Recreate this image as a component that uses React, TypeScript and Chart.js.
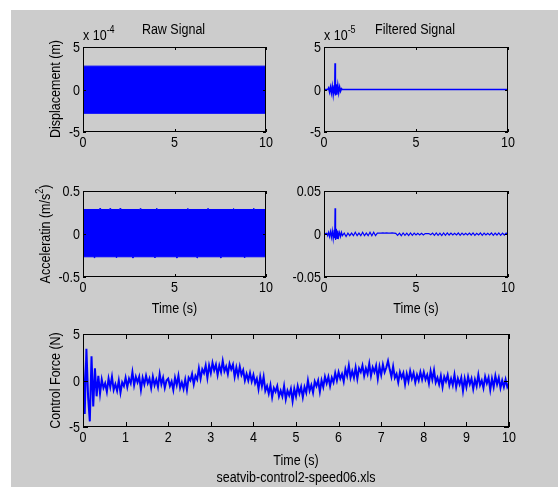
import React, { useEffect, useRef } from "react";
import { Chart, registerables } from "chart.js";

Chart.register(...registerables);

const W = 558;
const H = 487;
const FONT = '"Liberation Sans", Arial, Helvetica, sans-serif';
const FS = 12.5;
const FS_SUP = 9;
const STRETCH = 1.15;
const BLUE = "#0000ff";

// ---------------- data ----------------
// Raw displacement (x 1e-4 m): solid oscillation band, envelope
const RAW_DISP_T = [0, 10];
const RAW_DISP_UPPER = [2.75, 2.75];
const RAW_DISP_LOWER = [-2.8, -2.8];

// Filtered displacement (x 1e-5 m)
const FILT_DISP_T = [0, 0.2, 0.25, 0.3, 0.35, 0.4, 0.45, 0.5, 0.55, 0.58, 0.6, 0.62, 0.66, 0.7, 0.75, 0.8, 0.85, 0.9, 0.95, 1.0, 10];
const FILT_DISP = [0, 0, 0.2, -0.3, 0.3, -0.4, 0.4, -0.6, 0.5, -0.5, 3.1, -0.7, 0.6, -0.6, 0.5, -0.4, 0.3, -0.2, 0.1, 0, 0];

// Raw acceleration (m/s^2): envelope of the dense oscillation, with its small spikes
const RAW_ACC_UPPER_T = [0, 0.9, 0.93, 0.96, 1.45, 1.48, 1.51, 2.0, 2.03, 2.06, 3.1, 3.13, 3.16, 4.0, 4.03, 4.06, 5.7, 5.73, 5.76, 6.8, 6.83, 6.86, 8.2, 8.23, 8.26, 9.3, 9.33, 9.36, 10];
const RAW_ACC_UPPER = [0.285, 0.285, 0.3, 0.285, 0.285, 0.298, 0.285, 0.285, 0.3, 0.285, 0.285, 0.297, 0.285, 0.285, 0.3, 0.285, 0.285, 0.298, 0.285, 0.285, 0.3, 0.285, 0.285, 0.297, 0.285, 0.285, 0.3, 0.285, 0.285];
const RAW_ACC_LOWER_T = [0, 0.6, 0.63, 0.66, 1.8, 1.83, 1.86, 2.7, 2.73, 2.76, 3.9, 3.93, 3.96, 5.1, 5.13, 5.16, 6.2, 6.23, 6.26, 7.5, 7.53, 7.56, 8.8, 8.83, 8.86, 10];
const RAW_ACC_LOWER = [-0.265, -0.265, -0.28, -0.265, -0.265, -0.278, -0.265, -0.265, -0.28, -0.265, -0.265, -0.277, -0.265, -0.265, -0.28, -0.265, -0.265, -0.278, -0.265, -0.265, -0.28, -0.265, -0.265, -0.278, -0.265, -0.265];

// Filtered acceleration (m/s^2): start-up burst, then small ripple every 0.1 s from 1.0 s
const FILT_ACC_BURST_T = [0, 0.15, 0.2, 0.25, 0.3, 0.35, 0.4, 0.45, 0.5, 0.55, 0.58, 0.6, 0.63, 0.67, 0.71, 0.75, 0.8, 0.85, 0.9, 0.95];
const FILT_ACC_BURST = [0, 0.001, -0.002, 0.002, -0.003, 0.003, -0.004, 0.004, -0.006, 0.005, -0.005, 0.03, -0.007, 0.006, -0.005, 0.004, -0.003, 0.002, -0.003, 0.002];
const FILT_ACC_RIPPLE_T0 = 1.0;
const FILT_ACC_RIPPLE_DT = 0.1;
const FILT_ACC_RIPPLE = [
  -0.002, 0.001, -0.003, 0.001, -0.002, 0.001, -0.002, 0.002, -0.002, 0.001,
  -0.002, 0.002, -0.002, 0.001, -0.002, 0.002, -0.002, 0.002, -0.002, 0.001,
  0.001, 0.001, 0.0012, 0.001, 0.0012, 0.001, 0.001, 0.0012, 0.001, 0.0008,
  -0.0015, 0.001, -0.002, 0.0012, -0.0015, 0.001, -0.0018, 0.0012, -0.0015, 0.001,
  -0.0012, 0.0008, -0.001, 0.0008, -0.0012, 0.0005, 0.0004, 0.0005, -0.0008, 0.001,
  -0.0015, 0.0012, -0.0015, 0.001, -0.0018, 0.0012, -0.0015, 0.0012, -0.0012, 0.001,
  -0.0012, 0.0008, -0.001, 0.0012, -0.0015, 0.001, -0.0012, 0.0008, -0.001, 0.001,
  -0.0012, 0.0012, -0.0015, 0.0008, -0.001, 0.0012, -0.0015, 0.001, -0.0012, 0.0008,
  -0.001, 0.0012, -0.0015, 0.001, -0.0012, 0.0012, -0.0015, 0.001, -0.0012, 0.001, -0.0008,
];

// Control force (N), sampled every 0.04 s (one row per second)
const FORCE_DT = 0.04;
const FORCE = [
  2.3, -3.6, 3.4, -1.8, -4.4, 2.6, -2.8, 1.3, -1.7, 0.5, -1.4, 0.1, -0.8, -0.3, -1.2, 0.2, -0.7, 0.4, -1.0, -0.4, -1.1, 0.0, -1.3, -0.2, -0.6,
  0.3, -0.7, 0.2, -0.3, 0.9, -0.5, 0.4, -0.2, 0.4, -1.0, 0.3, -0.4, 0.5, -0.3, 0.2, -0.8, 0.4, -0.5, 0.1, -0.7, 0.7, -0.4, 0.3, -0.8, 0.0,
  0.2, -0.6, -0.1, -1.0, 0.3, -0.5, 0.5, -0.8, -0.2, -0.9, 0.1, -1.0, 0.3, 0.0, 0.7, -0.4, 0.5, 0.1, 1.3, 0.2, 1.2, 0.8, 1.6, 0.3, 1.6,
  0.8, 1.9, 1.1, 1.7, 0.6, 1.6, 0.9, 2.1, 1.0, 1.5, 0.7, 1.8, 1.2, 1.7, 0.4, 1.4, 0.5, 1.5, 0.6, 1.1, 0.0, 0.7, 0.0, 0.8, -0.1,
  0.6, -0.3, 0.2, -0.9, 0.4, -0.6, 0.4, -1.1, -0.6, -1.4, -0.5, -1.8, -0.8, -1.2, -0.6, -1.7, -1.1, -1.7, -0.6, -2.0, -1.1, -1.6, -0.9, -2.2, -0.9,
  -1.7, -0.6, -1.4, -0.7, -1.8, -0.7, -1.3, 0.0, -1.1, -0.5, -1.3, -0.1, -0.6, 0.0, -1.2, 0.0, -0.7, 0.4, -0.3, 0.4, -0.6, 0.3, -0.2, 0.8, 0.0,
  0.9, 0.2, 0.7, -0.1, 1.2, 0.5, 1.6, 0.3, 1.0, 0.3, 1.4, 0.2, 1.3, 0.9, 1.6, 0.5, 1.3, 0.7, 1.8, 0.5, 1.4, 0.9, 1.6, 0.2, 1.5,
  0.6, 1.7, 0.9, 1.4, 2.1, 1.2, 0.4, 1.5, 0.3, 0.7, -0.2, 0.9, 0.3, 0.8, -0.4, 0.7, -0.1, 1.0, 0.2, 0.8, -0.2, 0.6, 0.0, 0.9, 0.1,
  0.9, 0.1, 0.6, -0.3, 1.0, 0.1, 1.1, -0.2, 0.3, -0.4, 0.5, -0.7, 0.4, -0.1, 0.6, -0.5, 0.2, -0.5, 0.6, -0.7, 0.2, -0.4, 0.3, -1.1, 0.2,
  -0.7, 0.4, -0.4, 0.2, -0.9, 0.1, -0.6, 0.6, -0.5, 0.0, -0.8, 0.4, -0.3, 0.3, -1.0, 0.2, -0.7, 0.5, -0.4, 0.3, -0.8, 0.0, -0.7, 0.1, -0.7, -0.3,
];

// ticks
const X_TICKS_SMALL = [0, 5, 10];
const X_LABELS_SMALL = ["0", "5", "10"];
const X_TICKS_FORCE = [0, 1, 2, 3, 4, 5, 6, 7, 8, 9, 10];
const X_LABELS_FORCE = ["0", "1", "2", "3", "4", "5", "6", "7", "8", "9", "10"];
const DISP_TICKS = [-5, 0, 5];
const DISP_LABELS = ["-5", "0", "5"];
const ACC_TICKS = [-0.5, 0, 0.5];
const ACC_LABELS = ["-0.5", "0", "0.5"];
const FACC_TICKS = [-0.05, 0, 0.05];
const FACC_LABELS = ["-0.05", "0", "0.05"];
const FORCE_TICKS = [-5, 0, 5];
const FORCE_LABELS = ["-5", "0", "5"];

// ---------------- helpers ----------------
const pts = (t: number[], v: number[]) => v.map((y, i) => ({ x: t[i], y }));
const stepPts = (t0: number, dt: number, v: number[]) => v.map((y, i) => ({ x: +(t0 + i * dt).toFixed(4), y }));

type Seg = { t: string; sup?: boolean };
type Label = { segs: Seg[]; x: number; y: number; rot?: boolean; align?: "left" | "center" | "right"; middle?: boolean };

type Panel = {
  area: [number, number, number, number];
  datasets: any[];
  xTicks: number[];
  xLabels: string[];
  yTicks: number[];
  yLabels: string[];
  yMin: number;
  yMax: number;
  tickLen: number;
  labels: Label[];
};

const line = (data: any[], width = 1) => ({
  data,
  borderColor: BLUE,
  backgroundColor: BLUE,
  borderWidth: width,
  pointRadius: 0,
  tension: 0,
  fill: false,
});

const band = (upper: any[], lower: any[]) => [
  { ...line(upper) },
  { ...line(lower), fill: "-1" },
];

const sup = (s: string): Seg => ({ t: s, sup: true });
const txt = (s: string): Seg => ({ t: s });

const PANELS: Panel[] = [
  {
    area: [83, 47, 266, 132],
    datasets: band(pts(RAW_DISP_T, RAW_DISP_UPPER), pts(RAW_DISP_T, RAW_DISP_LOWER)),
    xTicks: X_TICKS_SMALL, xLabels: X_LABELS_SMALL,
    yTicks: DISP_TICKS, yLabels: DISP_LABELS, yMin: -5, yMax: 5, tickLen: 2,
    labels: [
      { segs: [txt("Raw Signal")], x: 173.5, y: 34 },
      { segs: [txt("x 10"), sup("-4")], x: 83, y: 40, align: "left" },
      { segs: [txt("Displacement (m)")], x: 55, y: 89, rot: true },
    ],
  },
  {
    area: [324, 47, 508, 132],
    datasets: [line(pts(FILT_DISP_T, FILT_DISP), 1.5)],
    xTicks: X_TICKS_SMALL, xLabels: X_LABELS_SMALL,
    yTicks: DISP_TICKS, yLabels: DISP_LABELS, yMin: -5, yMax: 5, tickLen: 2,
    labels: [
      { segs: [txt("Filtered Signal")], x: 415, y: 34 },
      { segs: [txt("x 10"), sup("-5")], x: 324, y: 40, align: "left" },
    ],
  },
  {
    area: [83, 191, 266, 277],
    datasets: band(pts(RAW_ACC_UPPER_T, RAW_ACC_UPPER), pts(RAW_ACC_LOWER_T, RAW_ACC_LOWER)),
    xTicks: X_TICKS_SMALL, xLabels: X_LABELS_SMALL,
    yTicks: ACC_TICKS, yLabels: ACC_LABELS, yMin: -0.5, yMax: 0.5, tickLen: 2,
    labels: [
      { segs: [txt("Acceleratin (m/s"), sup("2"), txt(")")], x: 45, y: 234, rot: true },
      { segs: [txt("Time (s)")], x: 174.5, y: 312.5 },
    ],
  },
  {
    area: [324, 191, 508, 277],
    datasets: [
      line([
        ...pts(FILT_ACC_BURST_T, FILT_ACC_BURST),
        ...stepPts(FILT_ACC_RIPPLE_T0, FILT_ACC_RIPPLE_DT, FILT_ACC_RIPPLE),
      ], 1.2),
    ],
    xTicks: X_TICKS_SMALL, xLabels: X_LABELS_SMALL,
    yTicks: FACC_TICKS, yLabels: FACC_LABELS, yMin: -0.05, yMax: 0.05, tickLen: 2,
    labels: [{ segs: [txt("Time (s)")], x: 416, y: 312.5 }],
  },
  {
    area: [83, 334, 509, 427],
    datasets: [line(stepPts(0, FORCE_DT, FORCE), 2)],
    xTicks: X_TICKS_FORCE, xLabels: X_LABELS_FORCE,
    yTicks: FORCE_TICKS, yLabels: FORCE_LABELS, yMin: -5, yMax: 5, tickLen: 4,
    labels: [
      { segs: [txt("Control Force (N)")], x: 55, y: 380.5, rot: true },
      { segs: [txt("Time (s)")], x: 296, y: 465 },
      { segs: [txt("seatvib-control2-speed06.xls")], x: 296, y: 482 },
    ],
  },
];

function drawLabel(ctx: CanvasRenderingContext2D, lab: Label) {
  const main = `${FS}px ${FONT}`;
  const small = `${FS_SUP}px ${FONT}`;
  let total = 0;
  const widths = lab.segs.map((s) => {
    ctx.font = s.sup ? small : main;
    const w = ctx.measureText(s.t).width;
    total += w;
    return w;
  });
  ctx.save();
  ctx.fillStyle = "#000";
  ctx.textBaseline = "alphabetic";
  ctx.textAlign = "left";
  ctx.translate(lab.x, lab.y);
  const align = lab.align || "center";
  let base = 0;
  if (lab.rot) {
    ctx.rotate(-Math.PI / 2);
    base = FS * 0.36;
  } else if (lab.middle) {
    base = FS * 0.36;
  }
  ctx.scale(1, STRETCH);
  let x0 = align === "left" ? 0 : align === "right" ? -total : -total / 2;
  lab.segs.forEach((s, i) => {
    ctx.font = s.sup ? small : main;
    ctx.fillText(s.t, x0, s.sup ? base - 6 : base);
    x0 += widths[i];
  });
  ctx.restore();
}

function makeConfig(p: Panel): any {
  const [L, T, R, B] = p.area;
  const YW = 40;
  const XH = 20;
  const decor = {
    id: "matlabDecor",
    afterDraw(chart: any) {
      const ctx: CanvasRenderingContext2D = chart.ctx;
      const a = chart.chartArea;
      const xs = chart.scales.x;
      const ys = chart.scales.y;
      ctx.save();
      ctx.strokeStyle = "#000";
      ctx.lineWidth = 1;
      ctx.strokeRect(a.left + 0.5, a.top + 0.5, a.right - a.left - 1, a.bottom - a.top - 1);
      ctx.beginPath();
      p.xTicks.forEach((v) => {
        const px = Math.round(xs.getPixelForValue(v)) + 0.5;
        ctx.moveTo(px, a.bottom);
        ctx.lineTo(px, a.bottom - p.tickLen - 1);
        ctx.moveTo(px, a.top);
        ctx.lineTo(px, a.top + p.tickLen + 1);
      });
      p.yTicks.forEach((v) => {
        const py = Math.round(ys.getPixelForValue(v)) + 0.5;
        ctx.moveTo(a.left, py);
        ctx.lineTo(a.left + p.tickLen + 1, py);
        ctx.moveTo(a.right, py);
        ctx.lineTo(a.right - p.tickLen - 1, py);
      });
      ctx.stroke();
      ctx.restore();
      // tick labels, placed through the chart's own scales
      p.xTicks.forEach((v, i) => {
        drawLabel(ctx, { segs: [txt(p.xLabels[i])], x: xs.getPixelForValue(v), y: a.bottom + 15 });
      });
      p.yTicks.forEach((v, i) => {
        drawLabel(ctx, { segs: [txt(p.yLabels[i])], x: a.left - 3, y: ys.getPixelForValue(v), align: "right", middle: true });
      });
      p.labels.forEach((l) => drawLabel(ctx, l));
    },
  };
  return {
    type: "line",
    data: { datasets: p.datasets },
    options: {
      responsive: false,
      maintainAspectRatio: false,
      devicePixelRatio: 1,
      animation: false,
      events: [],
      layout: { padding: { left: L - YW, top: T, right: W - R, bottom: H - B - XH } },
      plugins: { legend: { display: false }, tooltip: { enabled: false }, title: { display: false } },
      scales: {
        x: {
          type: "linear",
          min: 0,
          max: 10,
          grid: { display: false, drawTicks: false },
          border: { display: false },
          afterBuildTicks: (s: any) => { s.ticks = p.xTicks.map((v) => ({ value: v })); },
          afterFit: (s: any) => { s.height = XH; },
          ticks: { display: false },
        },
        y: {
          type: "linear",
          min: p.yMin,
          max: p.yMax,
          grid: { display: false, drawTicks: false },
          border: { display: false },
          afterBuildTicks: (s: any) => { s.ticks = p.yTicks.map((v) => ({ value: v })); },
          afterFit: (s: any) => { s.width = YW; },
          ticks: { display: false },
        },
      },
    },
    plugins: [decor],
  };
}

export default function App() {
  const refs = useRef<(HTMLCanvasElement | null)[]>([]);
  useEffect(() => {
    const charts = PANELS.map((p, i) => new Chart(refs.current[i] as HTMLCanvasElement, makeConfig(p)));
    return () => charts.forEach((c) => c.destroy());
  }, []);
  return (
    <div style={{ position: "absolute", left: 0, top: 0, width: W, height: H, background: "#ffffff", overflow: "hidden" }}>
      <div style={{ position: "absolute", left: 11, top: 10, width: W - 11, height: H - 10, background: "#cccccc" }} />
      {PANELS.map((_, i) => (
        <canvas
          key={i}
          ref={(el) => { refs.current[i] = el; }}
          width={W}
          height={H}
          style={{ position: "absolute", left: 0, top: 0, width: W, height: H }}
        />
      ))}
    </div>
  );
}
